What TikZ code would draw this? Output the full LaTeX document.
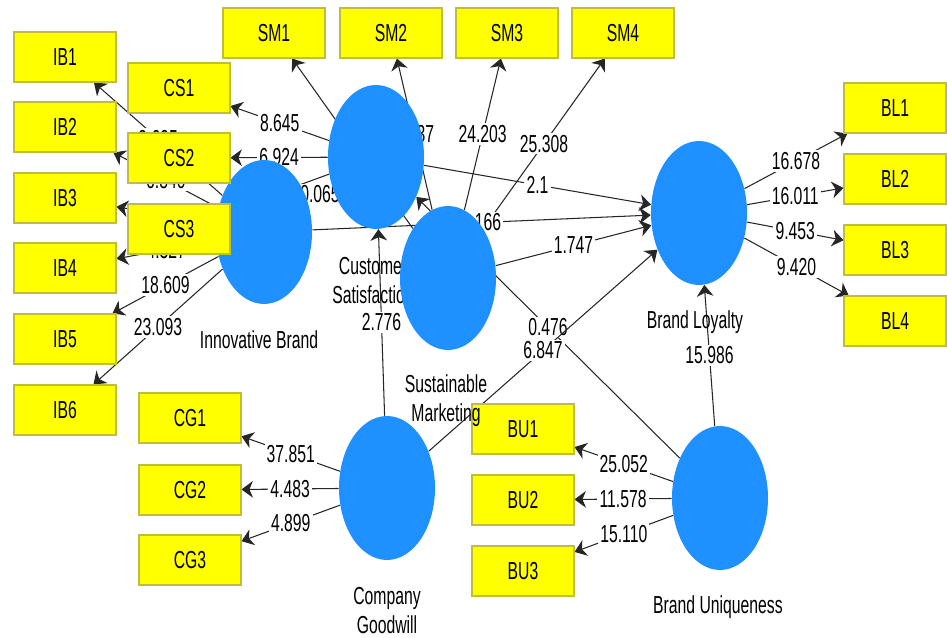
\documentclass[tikz,border=0pt]{standalone}
\usepackage{fontspec}
\setmainfont{Liberation Sans}[FakeStretch=0.64]
\usetikzlibrary{arrows.meta,shapes.geometric}
\definecolor{plsblue}{RGB}{30,144,255}
\definecolor{plsyellow}{RGB}{255,255,0}
\definecolor{plsrim}{RGB}{190,190,60}
\pgfdeclarelayer{edges}
\pgfdeclarelayer{ibl}
\pgfsetlayers{edges,ibl,main}
\tikzset{
  ind/.style={draw=plsrim, fill=plsyellow, line width=0.6pt, minimum width=2.04cm, minimum height=1cm, inner sep=0pt},
  lv/.style={ellipse, fill=plsblue, minimum width=1.92cm, minimum height=2.88cm, inner sep=0pt},
  link/.style={draw=black!85, line width=0.6pt, -{Stealth[length=6.5pt,width=9.5pt,inset=2pt]}},
  coef/.style={fill=white, inner sep=1.2pt},
  lvname/.style={align=center, inner sep=0pt}
}

\begin{document}
\begin{tikzpicture}[x=0.02cm, y=-0.02cm, font=\fontsize{14}{16.5}\selectfont]
	%%%%% START %%%%%
	\useasboundingbox (0,0) rectangle (947,638);
	
	% innovative brand sits below the boxes
	\begin{pgfonlayer}{ibl}
		\node[lv] (ib) at (264,232) {};
	\end{pgfonlayer}
	\node[lvname] (ibname) at (259,340) {Innovative Brand};
	
	% indicators
	\node[ind] (ib1) at (65,57) {IB1};
	\node[ind] (ib2) at (65,127) {IB2};
	\node[ind] (ib3) at (65,198) {IB3};
	\node[ind] (ib4) at (65,268) {IB4};
	\node[ind] (ib5) at (65,339) {IB5};
	\node[ind] (ib6) at (65,410) {IB6};
	
	\node[ind] (cs1) at (179,88) {CS1};
	\node[ind] (cs2) at (179,158) {CS2};
	\node[ind] (cs3) at (179,229) {CS3};
	
	\node[ind] (sm1) at (274,33) {SM1};
	\node[ind] (sm2) at (391,33) {SM2};
	\node[ind] (sm3) at (507,33) {SM3};
	\node[ind] (sm4) at (623,33) {SM4};
	
	\node[ind] (bl1) at (895,108) {BL1};
	\node[ind] (bl2) at (895,179) {BL2};
	\node[ind] (bl3) at (895,250) {BL3};
	\node[ind] (bl4) at (895,321) {BL4};
	
	\node[ind] (cg1) at (190,418) {CG1};
	\node[ind] (cg2) at (190,490) {CG2};
	\node[ind] (cg3) at (190,560) {CG3};
	
	\node[ind] (bu1) at (523,429) {BU1};
	\node[ind] (bu2) at (523,500) {BU2};
	\node[ind] (bu3) at (523,571) {BU3};
	
	% latent variables
	\node[lv] (cs) at (376,157) {};
	\node[lvname] (csname) at (373,281) {Customer\\Satisfaction};
	\node[lv] (sm) at (448,278) {};
	\node[lvname] (smname) at (446,401) {Sustainable\\Marketing};
	\node[lv] (bl) at (699,213) {};
	\node[lvname] (blname) at (695,322) {Brand Loyalty};
	\node[lv] (cg) at (387,488) {};
	\node[lvname] (cgname) at (387,611) {Company\\Goodwill};
	\node[lv] (bu) at (720,498) {};
	\node[lvname] (buname) at (718,607) {Brand Uniqueness};
	
	\begin{pgfonlayer}{edges}
		% outer model
		\draw[link] (ib) -- (ib1) node[coef,midway] {9.695};
		\draw[link] (ib) -- (ib2) node[coef,midway] {6.840};
		\draw[link] (ib) -- (ib3);
		\draw[link] (ib) -- (ib4) node[coef,midway] {4.327};
		\draw[link] (ib) -- (ib5) node[coef,midway] {18.609};
		\draw[link] (ib) -- (ib6) node[coef,midway] {23.093};
		
		\draw[link] (cs) -- (cs1) node[coef,midway] {8.645};
		\draw[link] (cs) -- (cs2) node[coef,midway] {6.924};
		\draw[link] (cs) -- (cs3);
		
		\draw[link] (sm) -- (sm1);
		\draw[link] (sm) -- (sm2) node[coef,midway] {9.137};
		\draw[link] (sm) -- (sm3) node[coef,midway] {24.203};
		\draw[link] (sm) -- (sm4) node[coef,midway] {25.308};
		
		\draw[link] (bl) -- (bl1) node[coef,midway] {16.678};
		\draw[link] (bl) -- (bl2) node[coef,midway] {16.011};
		\draw[link] (bl) -- (bl3) node[coef,midway] {9.453};
		\draw[link] (bl) -- (bl4) node[coef,midway] {9.420};
		
		\draw[link] (cg) -- (cg1) node[coef,midway] {37.851};
		\draw[link] (cg) -- (cg2) node[coef,midway] {4.483};
		\draw[link] (cg) -- (cg3) node[coef,midway] {4.899};
		
		\draw[link] (bu) -- (bu1) node[coef,midway] {25.052};
		\draw[link] (bu) -- (bu2) node[coef,midway] {11.578};
		\draw[link] (bu) -- (bu3) node[coef,midway] {15.110};
		
		% inner model
		\draw[link] (ib) -- (cs) node[coef,midway] {0.065};
		\draw[link] (ib) -- (bl) node[coef,midway] {0.166};
		\draw[link] (cs) -- (bl) node[coef,midway] {2.1};
		\draw[link] (sm) -- (bl) node[coef,midway] {1.747};
		\draw[link] (cg) -- (cs) node[coef,midway] {2.776};
		\draw[link] (bu) -- (cs) node[coef,midway] {0.476};
		\draw[link] (cg) -- (bl) node[coef,midway] {6.847};
		\draw[link] (bu) -- (bl) node[coef,midway] {15.986};
	\end{pgfonlayer}
	
	%%%%% END %%%%%
\end{tikzpicture}
\end{document}
